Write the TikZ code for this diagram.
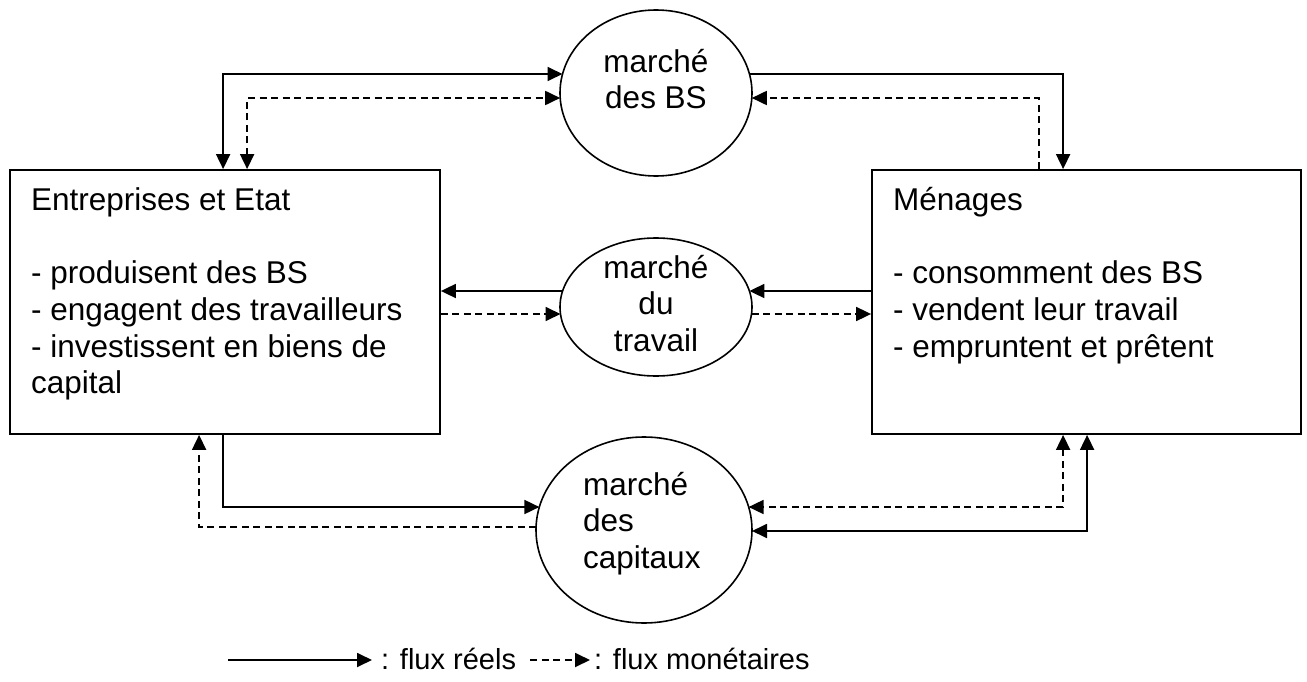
\documentclass[tikz,border=0pt]{standalone}
\usepackage{fontspec}
\setmainfont{Liberation Sans}
\usetikzlibrary{arrows.meta,calc,shapes.geometric}
\begin{document}
\begin{tikzpicture}[x=1pt,y=-1pt,
  box/.style={draw, line width=1.8pt, inner sep=0pt, rectangle},
  mkt/.style={draw, ellipse, line width=1.6pt, inner sep=0pt},
  txt/.style={font=\fontsize{31.5}{36.7}\selectfont, inner sep=0pt, align=left},
  ctxt/.style={font=\fontsize{31.5}{36.7}\selectfont, inner sep=0pt, align=center},
  legtxt/.style={font=\fontsize{29}{33}\selectfont, inner sep=0pt, align=left},
  real/.style={line width=1.8pt},
  money/.style={line width=1.8pt, dash pattern=on 7pt off 4.5pt},
  >={Triangle[length=15pt,width=14pt]}
]
\useasboundingbox (0,0) rectangle (1307,682);

% boxes
\node[box, minimum width=430pt, minimum height=264pt] (ent) at (225,302) {};
\node[box, minimum width=429pt, minimum height=264pt] (men) at (1086.5,302) {};
% markets
\node[mkt, minimum width=192pt, minimum height=166pt] (bs) at (656,93) {};
\node[mkt, minimum width=192pt, minimum height=138pt] (tr) at (656,307) {};
\node[mkt, minimum width=216pt, minimum height=186pt] (cap) at (644,530) {};

% texts
\node[txt, anchor=north west] (entT) at (31,185) {\vrule width 0pt height 25pt Entreprises et Etat\\[36.7pt]- produisent des BS\\- engagent des travailleurs\\- investissent en biens de\\capital};
\node[txt, anchor=north west] (menT) at (893,185) {\vrule width 0pt height 25pt M\'enages\\[36.7pt]- consomment des BS\\- vendent leur travail\\- empruntent et pr\^etent};
\node[ctxt, anchor=north] (bsT) at (656,47) {\vrule width 0pt height 25pt march\'e\\des BS};
\node[ctxt, anchor=north] (trT) at (656,253) {\vrule width 0pt height 25pt march\'e\\du\\travail};
\node[txt, anchor=north west] (capT) at (583,470) {\vrule width 0pt height 25pt march\'e\\des\\capitaux};

% border points
\coordinate (bsL1) at ($(bs.center)+(-93.5,-19)$);
\coordinate (bsL2) at ($(bs.center)+(-95.8,5)$);
\coordinate (bsR1) at ($(bs.center)+(93.5,-19)$);
\coordinate (bsR2) at ($(bs.center)+(95.8,5)$);
\coordinate (trL1) at ($(tr.center)+(-93.4,-16)$);
\coordinate (trL2) at ($(tr.center)+(-95.5,7)$);
\coordinate (trR1) at ($(tr.center)+(93.4,-16)$);
\coordinate (trR2) at ($(tr.center)+(95.5,7)$);
\coordinate (capL1) at ($(cap.center)+(-104.6,-23)$);
\coordinate (capL2) at ($(cap.center)+(-107.9,-3)$);
\coordinate (capR1) at ($(cap.center)+(104.6,-23)$);
\coordinate (capR2) at ($(cap.center)+(108,1)$);

% top
\draw[real,<->] ([xshift=214pt]ent.north west) |- (bsL1);
\draw[money,<->] ([xshift=238pt]ent.north west) |- (bsL2);
\draw[real,->] (bsR1) -| ([xshift=192pt]men.north west);
\draw[money,->] ([xshift=168pt]men.north west) |- (bsR2);
% middle
\draw[real,->] (trL1) -- (trL1 -| ent.east);
\draw[money,->] (trL2 -| ent.east) -- (trL2);
\draw[real,->] (trR1 -| men.west) -- (trR1);
\draw[money,->] (trR2) -- (trR2 -| men.west);
% bottom
\draw[real,->] ([xshift=214pt]ent.south west) |- (capL1);
\draw[money,->] (capL2) -| ([xshift=190pt]ent.south west);
\draw[money,<->] ([xshift=192pt]men.south west) |- (capR1);
\draw[real,<->] ([xshift=216pt]men.south west) |- (capR2);

% legend
\coordinate (lg1a) at (228,660);
\coordinate (lg1b) at (372,660);
\draw[real,->] (lg1a) -- (lg1b);
\node[legtxt, anchor=base west] (lg1T) at (381,669) {: flux r\'eels};
\coordinate (lg2a) at (530,660);
\coordinate (lg2b) at (590,660);
\draw[money,->] (lg2a) -- (lg2b);
\node[legtxt, anchor=base west] (lg2T) at (594,669) {: flux mon\'etaires};
\end{tikzpicture}
\end{document}
